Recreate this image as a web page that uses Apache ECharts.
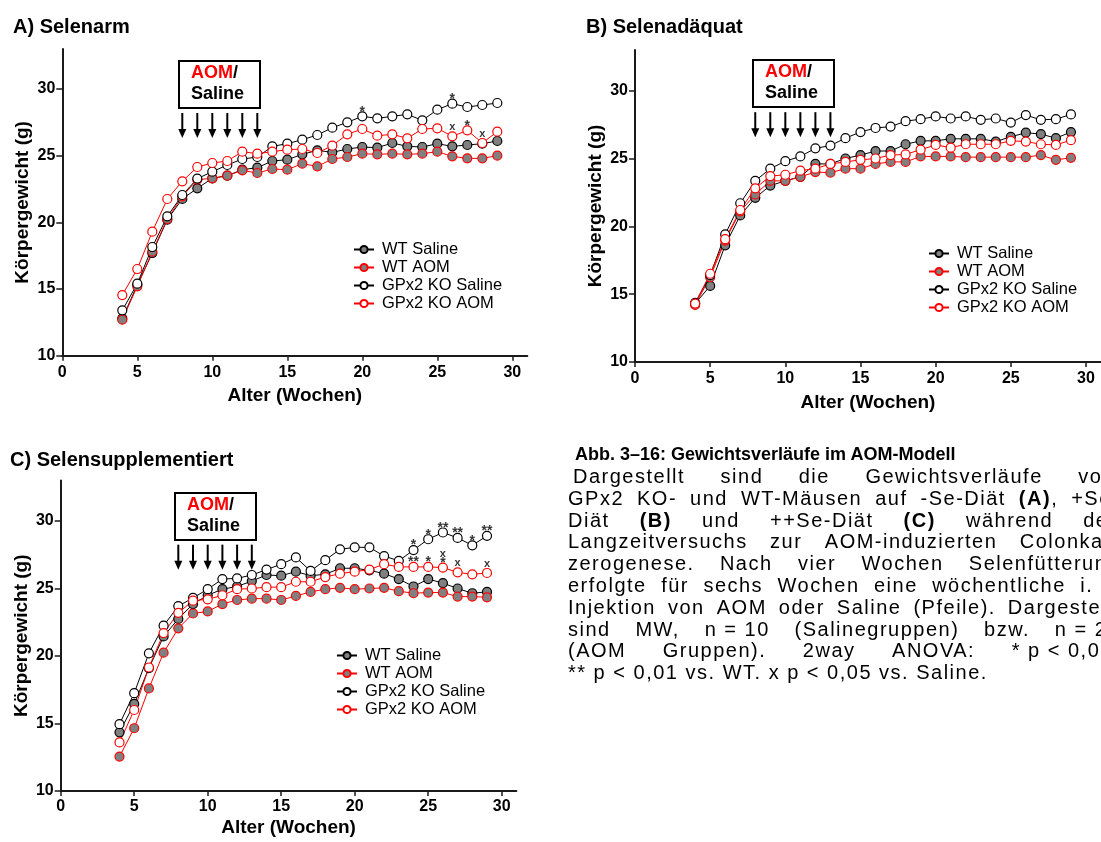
<!DOCTYPE html>
<html>
<head>
<meta charset="utf-8">
<script src="https://cdn.jsdelivr.net/npm/echarts@6/dist/echarts.min.js"></script>
<style>
  html, body { margin: 0; padding: 0; background: #fff; width: 1101px; height: 842px; overflow: hidden; }
  #chart { position: absolute; left: 0; top: 0; width: 1101px; height: 842px; }
  #caption { position: absolute; left: 568px; top: 442px; font-family: 'Liberation Sans', Arial, sans-serif; color: #000; }
  #caption .head { font-weight: bold; font-size: 18px; line-height: 24px; height: 24px; padding-left: 7px; white-space: nowrap; }
  #caption .ln { display: flex; justify-content: space-between; width: 552px; height: 21.8px; line-height: 21.8px; font-size: 20px; letter-spacing: 1.5px; }
  #caption .ln span { white-space: pre; }
  #caption .ln.last { justify-content: flex-start; }
</style>
</head>
<body>
<div id="chart"></div>
<div id="caption"></div>
<script>
// Age of the animals in weeks
const weeks = [4, 5, 6, 7, 8, 9, 10, 11, 12, 13, 14, 15, 16, 17, 18, 19, 20, 21, 22, 23, 24, 25, 26, 27, 28, 29];

// A) Selenarm - mean body weight (g)
const selenarmWtSaline = [12.8, 15.3, 17.7, 20.2, 21.76, 22.55, 23.3, 23.5, 23.95, 24.1, 24.6, 24.7, 25.1, 25.4, 25.25, 25.5, 25.65, 25.6, 25.95, 25.7, 25.65, 25.9, 25.7, 25.8, 25.9, 26.1];
const selenarmWtAom = [12.7, 15.2, 17.8, 20.25, 21.95, 23.2, 23.3, 23.5, 23.9, 23.7, 24.0, 23.95, 24.4, 24.2, 24.75, 24.9, 25.15, 25.1, 25.15, 25.1, 25.15, 25.3, 24.95, 24.8, 24.8, 25.0];
const selenarmKoSaline = [13.4, 15.4, 18.15, 20.45, 22.05, 23.28, 23.8, 24.3, 24.75, 24.9, 25.7, 25.9, 26.2, 26.55, 27.1, 27.5, 27.95, 27.8, 27.95, 28.1, 27.65, 28.45, 28.9, 28.65, 28.8, 28.95];
const selenarmKoAom = [14.55, 16.5, 19.3, 21.75, 23.08, 24.15, 24.45, 24.6, 25.3, 25.15, 25.3, 25.45, 25.5, 25.2, 25.75, 26.6, 27.0, 26.5, 26.6, 26.3, 27.0, 27.05, 26.45, 26.9, 25.95, 26.8];

// B) Selenadäquat
const adaequatWtSaline = [14.3, 15.6, 18.6, 20.8, 22.1, 23.0, 23.35, 23.65, 24.6, 24.6, 25.0, 25.25, 25.55, 25.55, 26.05, 26.3, 26.3, 26.45, 26.45, 26.45, 26.25, 26.6, 26.9, 26.8, 26.5, 26.95];
const adaequatWtAom = [14.2, 16.25, 18.95, 21.1, 22.35, 23.35, 23.35, 23.65, 24.0, 23.95, 24.25, 24.25, 24.6, 24.75, 24.75, 25.15, 25.15, 25.15, 25.1, 25.1, 25.1, 25.1, 25.1, 25.25, 24.9, 25.05];
const adaequatKoSaline = [14.35, 16.4, 19.4, 21.7, 23.35, 24.25, 24.8, 25.15, 25.75, 25.95, 26.5, 26.95, 27.25, 27.35, 27.75, 27.9, 28.1, 27.95, 28.1, 27.85, 27.95, 27.65, 28.2, 27.85, 27.9, 28.25];
const adaequatKoAom = [14.3, 16.5, 19.05, 21.2, 22.8, 23.7, 23.8, 24.1, 24.25, 24.6, 24.75, 24.9, 25.0, 25.25, 25.3, 25.65, 26.0, 25.8, 26.05, 26.05, 26.05, 26.3, 26.25, 26.05, 26.0, 26.35];

// C) Selensupplementiert
const supplWtSaline = [14.35, 16.45, 19.1, 21.45, 22.75, 23.85, 24.5, 24.95, 25.15, 25.55, 26.0, 25.95, 26.25, 25.95, 26.05, 26.5, 26.5, 26.35, 26.1, 25.7, 25.15, 25.7, 25.4, 25.0, 24.65, 24.75];
const supplWtAom = [12.55, 14.65, 17.6, 20.25, 22.05, 23.15, 23.3, 23.85, 24.15, 24.25, 24.25, 24.15, 24.45, 24.75, 24.95, 25.05, 24.95, 25.0, 25.05, 24.8, 24.65, 24.7, 24.7, 24.4, 24.4, 24.35];
const supplKoSaline = [14.95, 17.25, 20.2, 22.25, 23.7, 24.3, 24.95, 25.7, 25.75, 26.0, 26.4, 26.8, 27.3, 26.3, 27.1, 27.9, 28.05, 28.05, 27.4, 27.05, 27.85, 28.65, 29.15, 28.75, 28.2, 28.9];
const supplKoAom = [13.6, 16.0, 19.15, 21.7, 23.2, 24.1, 24.2, 24.5, 24.95, 25.0, 25.1, 25.1, 25.5, 25.5, 25.85, 26.1, 26.25, 26.4, 26.8, 26.6, 26.6, 26.6, 26.55, 26.2, 26.05, 26.15];

// Group names (legend order)
const groupNames = ['WT Saline', 'WT AOM', 'GPx2 KO Saline', 'GPx2 KO AOM'];

// Weekly i.p. injections of AOM / saline
const injectionWeeks = [8, 9, 10, 11, 12, 13];

// Axis ticks
const xTicks = [0, 5, 10, 15, 20, 25, 30];
const yTicks = [10, 15, 20, 25, 30];

// Significance marks: [group, week, mark]
const sigSelenarm = [
  ['GPx2 KO Saline', 20, '*'], ['GPx2 KO Saline', 26, '*'],
  ['GPx2 KO AOM', 26, 'x'], ['GPx2 KO AOM', 27, '*'], ['GPx2 KO AOM', 28, 'x']
];
const sigAdaequat = [];
const sigSuppl = [
  ['GPx2 KO Saline', 24, '*'], ['GPx2 KO Saline', 25, '*'], ['GPx2 KO Saline', 26, '**'],
  ['GPx2 KO Saline', 27, '**'], ['GPx2 KO Saline', 28, '*'], ['GPx2 KO Saline', 29, '**'],
  ['GPx2 KO AOM', 24, '**'], ['GPx2 KO AOM', 25, '*'], ['GPx2 KO AOM', 26, 'x\n*'],
  ['GPx2 KO AOM', 27, 'x'], ['GPx2 KO AOM', 29, 'x']
];

// Caption text
const captionTitle = 'Abb. 3–16: Gewichtsverläufe im AOM-Modell';
const captionLines = [
  ['Dargestellt', 'sind', 'die', 'Gewichtsverläufe', 'von'],
  ['GPx2', 'KO-', 'und', 'WT-Mäusen', 'auf', '-Se-Diät', '<b>(A)</b>,', '+Se-'],
  ['Diät', '<b>(B)</b>', 'und', '++Se-Diät', '<b>(C)</b>', 'während', 'des'],
  ['Langzeitversuchs', 'zur', 'AOM-induzierten', 'Colonkar-'],
  ['zerogenese.', 'Nach', 'vier', 'Wochen', 'Selenfütterung'],
  ['erfolgte', 'für', 'sechs', 'Wochen', 'eine', 'wöchentliche', 'i. p.'],
  ['Injektion', 'von', 'AOM', 'oder', 'Saline', '(Pfeile).', 'Dargestellt'],
  ['sind', 'MW,', 'n = 10', '(Salinegruppen)', 'bzw.', 'n = 20'],
  ['(AOM', 'Gruppen).', '2way', 'ANOVA:', '* p &lt; 0,05,'],
  ['** p &lt; 0,01 vs. WT. x p &lt; 0,05 vs. Saline.']
];

const FONT = "'Liberation Sans', Arial, sans-serif";
const RED = '#ff0000';
const GREY = '#808080';

const groupStyle = {
  'WT Saline':      { line: '#000', fill: GREY,   border: '#000' },
  'WT AOM':         { line: RED,    fill: GREY,   border: RED },
  'GPx2 KO Saline': { line: '#000', fill: '#fff', border: '#000' },
  'GPx2 KO AOM':    { line: RED,    fill: '#fff', border: RED }
};

// Panel layout
const panels = [
  {
    title: 'A) Selenarm', titlePos: [13, 17],
    grid: { left: 62.3, top: 49, width: 465, height: 306.7 },
    values: [selenarmWtSaline, selenarmWtAom, selenarmKoSaline, selenarmKoAom],
    sig: sigSelenarm,
    legendPos: [353, 241],
    box: [7.78, 32.1], xNameGap: 31, xLabelMargin: 9, yNameGap: 30
  },
  {
    title: 'B) Selenadäquat', titlePos: [586, 17],
    grid: { left: 635, top: 50, width: 468, height: 311.9 },
    values: [adaequatWtSaline, adaequatWtAom, adaequatKoSaline, adaequatKoAom],
    sig: sigAdaequat,
    legendPos: [928, 245],
    box: [7.83, 32.25], xNameGap: 31, xLabelMargin: 9, yNameGap: 30
  },
  {
    title: 'C) Selensupplementiert', titlePos: [10, 450],
    grid: { left: 60.7, top: 480.5, width: 455.7, height: 310.5 },
    values: [supplWtSaline, supplWtAom, supplKoSaline, supplKoAom],
    sig: sigSuppl,
    legendPos: [336, 647],
    box: [7.78, 32.1], xNameGap: 27, xLabelMargin: 8, yNameGap: 29
  }
];

const axisLineStyle = { color: '#1a1a1a', width: 2 };

const option = {
  animation: false,
  backgroundColor: '#fff',
  textStyle: { fontFamily: FONT },
  title: panels.map(p => ({
    text: p.title, left: p.titlePos[0], top: p.titlePos[1], padding: 0,
    textStyle: { fontFamily: FONT, fontSize: 20, fontWeight: 'bold', color: '#000' }
  })),
  legend: panels.map(p => ({
    data: groupNames, orient: 'vertical', left: p.legendPos[0], top: p.legendPos[1],
    padding: 0, itemGap: 1, itemWidth: 20, itemHeight: 9, selectedMode: false,
    textStyle: { fontFamily: FONT, fontSize: 16.5, color: '#000', lineHeight: 17, padding: [0, 0, 0, 3] }
  })),
  grid: panels.map(p => Object.assign({ containLabel: false }, p.grid)),
  xAxis: panels.map((p, i) => ({
    type: 'value', gridIndex: i, min: 0, max: 31, interval: 5,
    name: 'Alter (Wochen)', nameLocation: 'middle', nameGap: p.xNameGap,
    nameTextStyle: { fontFamily: FONT, fontSize: 19, fontWeight: 'bold', color: '#000' },
    axisLine: { show: true, onZero: false, lineStyle: axisLineStyle },
    axisTick: { show: true, length: 5, customValues: xTicks, lineStyle: { color: '#1a1a1a', width: 1.5 } },
    axisLabel: { customValues: xTicks, margin: p.xLabelMargin, fontFamily: FONT, fontSize: 16, fontWeight: 'bold', color: '#000' },
    splitLine: { show: false }
  })),
  yAxis: panels.map((p, i) => ({
    type: 'value', gridIndex: i, min: 10, max: 33, interval: 5,
    name: 'Körpergewicht (g)', nameLocation: 'middle', nameGap: p.yNameGap,
    nameTextStyle: { fontFamily: FONT, fontSize: 19, fontWeight: 'bold', color: '#000' },
    axisLine: { show: true, onZero: false, lineStyle: axisLineStyle },
    axisTick: { show: true, length: 6, customValues: yTicks, lineStyle: { color: '#1a1a1a', width: 1.5 } },
    axisLabel: { customValues: yTicks, margin: 7, fontFamily: FONT, fontSize: 16, fontWeight: 'bold', color: '#000' },
    splitLine: { show: false }
  })),
  series: []
};

// Weight curves
panels.forEach((p, i) => {
  groupNames.forEach((name, k) => {
    const st = groupStyle[name];
    option.series.push({
      type: 'line', name: name, xAxisIndex: i, yAxisIndex: i,
      data: weeks.map((w, j) => [w, p.values[k][j]]),
      symbol: 'circle', symbolSize: 9, showAllSymbol: true,
      lineStyle: { color: st.line, width: 1 },
      itemStyle: { color: st.fill, borderColor: st.border, borderWidth: 1.2 },
      emphasis: { disabled: true },
      silent: true
    });
  });
});

// Significance marks above the points
const richMarks = {
  s: { fontFamily: FONT, fontSize: 14, fontWeight: 'bold', color: '#000', lineHeight: 9 },
  x: { fontFamily: FONT, fontSize: 11, fontWeight: 'bold', color: '#000', lineHeight: 9 }
};
panels.forEach((p, i) => {
  if (!p.sig.length) return;
  const data = p.sig.map(([group, wk, mark]) => {
    const k = groupNames.indexOf(group);
    const v = p.values[k][weeks.indexOf(wk)];
    const text = mark.split('\n').map(m => m.startsWith('x') ? '{x|' + m + '}' : '{s|' + m + '}').join('\n');
    const lastLine = mark.split('\n').pop();
    return {
      value: [wk, v],
      label: { formatter: text, distance: lastLine.startsWith('x') ? 4.5 : 0 }
    };
  });
  option.series.push({
    type: 'scatter', xAxisIndex: i, yAxisIndex: i, silent: true, z: 5,
    symbol: 'circle', symbolSize: 0.1, itemStyle: { color: 'rgba(0,0,0,0)' },
    label: { show: true, position: 'top', rich: richMarks },
    data: data
  });
});

const chart = echarts.init(document.getElementById('chart'), null, { renderer: 'canvas' });
chart.setOption(option);

// Injection box and arrows, placed in each panel's data coordinates
const BOX_W = 81, BOX_H = 47;
const graphics = [];
panels.forEach((p, i) => {
  const [bx, by] = chart.convertToPixel({ gridIndex: i }, p.box);
  graphics.push({
    type: 'group', x: Math.round(bx), y: Math.round(by), silent: true,
    children: [
      { type: 'rect', shape: { x: 0, y: 0, width: BOX_W, height: BOX_H },
        style: { fill: '#fff', stroke: '#000', lineWidth: 2 } },
      { type: 'text', x: 12, y: 2,
        style: {
          text: '{r|AOM}{k|/}\n{k|Saline}',
          rich: {
            r: { fill: RED, fontFamily: FONT, fontSize: 18, fontWeight: 'bold', lineHeight: 21 },
            k: { fill: '#000', fontFamily: FONT, fontSize: 18, fontWeight: 'bold', lineHeight: 21 }
          }
        } }
    ]
  });
  const yTop = by + BOX_H + 5, yTip = by + BOX_H + 30;
  injectionWeeks.forEach(w => {
    const ax = chart.convertToPixel({ gridIndex: i }, [w, 20])[0];
    graphics.push({
      type: 'line', silent: true,
      shape: { x1: ax, y1: yTop, x2: ax, y2: yTip - 7 },
      style: { stroke: '#000', lineWidth: 2 }
    });
    graphics.push({
      type: 'polygon', silent: true,
      shape: { points: [[ax - 4, yTip - 9], [ax + 4, yTip - 9], [ax, yTip]] },
      style: { fill: '#000' }
    });
  });
});
chart.setOption({ graphic: graphics });

// Figure caption
const cap = document.getElementById('caption');
const head = document.createElement('div');
head.className = 'head';
head.textContent = captionTitle;
cap.appendChild(head);
captionLines.forEach((words, idx) => {
  const ln = document.createElement('div');
  ln.className = 'ln' + (idx === captionLines.length - 1 ? ' last' : '');
  if (idx === 0) ln.style.paddingLeft = '5px';
  if (idx === 0) ln.style.width = '542px';
  ln.innerHTML = words.map(w => '<span>' + w + '</span>').join('');
  cap.appendChild(ln);
});
</script>
</body>
</html>
